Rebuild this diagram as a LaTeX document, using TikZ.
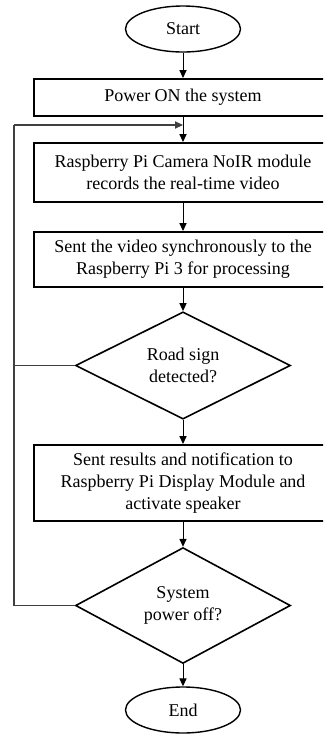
\documentclass[tikz,border=0pt]{standalone}
\usepackage{fontspec}
\setmainfont{Liberation Serif}
\usetikzlibrary{shapes.geometric,arrows.meta}

\begin{document}
\begin{tikzpicture}[x=0.5pt, y=-0.5pt,
        font=\fontsize{9}{11}\selectfont,
        terminal/.style={draw, ellipse, line width=0.7pt, minimum width=57.5pt, minimum height=23pt, inner sep=0pt},
        process/.style={draw, rectangle, line width=1pt, minimum width=149pt, align=center, inner sep=0pt},
        decision/.style={draw, diamond, line width=0.8pt, minimum width=107.5pt, align=center, inner sep=0pt},
        flow/.style={line width=0.5pt, -{Triangle[length=4pt, width=3.6pt]}},
        loopline/.style={line width=0.6pt, draw=black!75}]
        \useasboundingbox (0,0) rectangle (323,735);
        \clip (0,0) rectangle (323,735);
        % Inicio
        \node[terminal] (start) at (183,29) {Start};
        % Pasos del proceso
        \node[process, minimum height=18.5pt] (power) at (183,97.5) {Power ON the system};
        \node[process, minimum height=29.5pt] (camera) at (183,172.5)
            {Raspberry Pi Camera NoIR module\\records the real-time video};
        \node[process, minimum height=27.5pt] (video) at (183,259.5)
            {Sent the video synchronously to the\\Raspberry Pi 3 for processing};
        % Decision de la senal
        \node[decision, minimum height=52.5pt] (sign) at (183,365.5) {Road sign\\detected?};
        \node[process, minimum height=38pt] (notify) at (183,483)
            {Sent results and notification to\\Raspberry Pi Display Module and\\activate speaker};
        % Decision de apagado
        \node[decision, minimum height=57.5pt] (off) at (183,605.5) {System\\power off?};
        \node[terminal] (end) at (183,710) {End};
        % Flechas
        \draw[flow] (start) -- (power);
        \draw[flow] (power) -- (camera);
        \draw[flow] (camera) -- (video);
        \draw[flow] (video) -- (sign);
        \draw[flow] (sign) -- (notify);
        \draw[flow] (notify) -- (off);
        \draw[flow] (off) -- (end);
        % Lazo de regreso
        \coordinate (back) at (14,125);
        \coordinate (join) at (183,125);
        \draw[loopline] (off.west) -| (back);
        \draw[loopline] (sign.west) -- (sign.west -| back);
        \draw[loopline, -{Triangle[length=4pt, width=3.6pt]}, draw=black!75] (back) -- (join);
    \end{tikzpicture}
\end{document}
